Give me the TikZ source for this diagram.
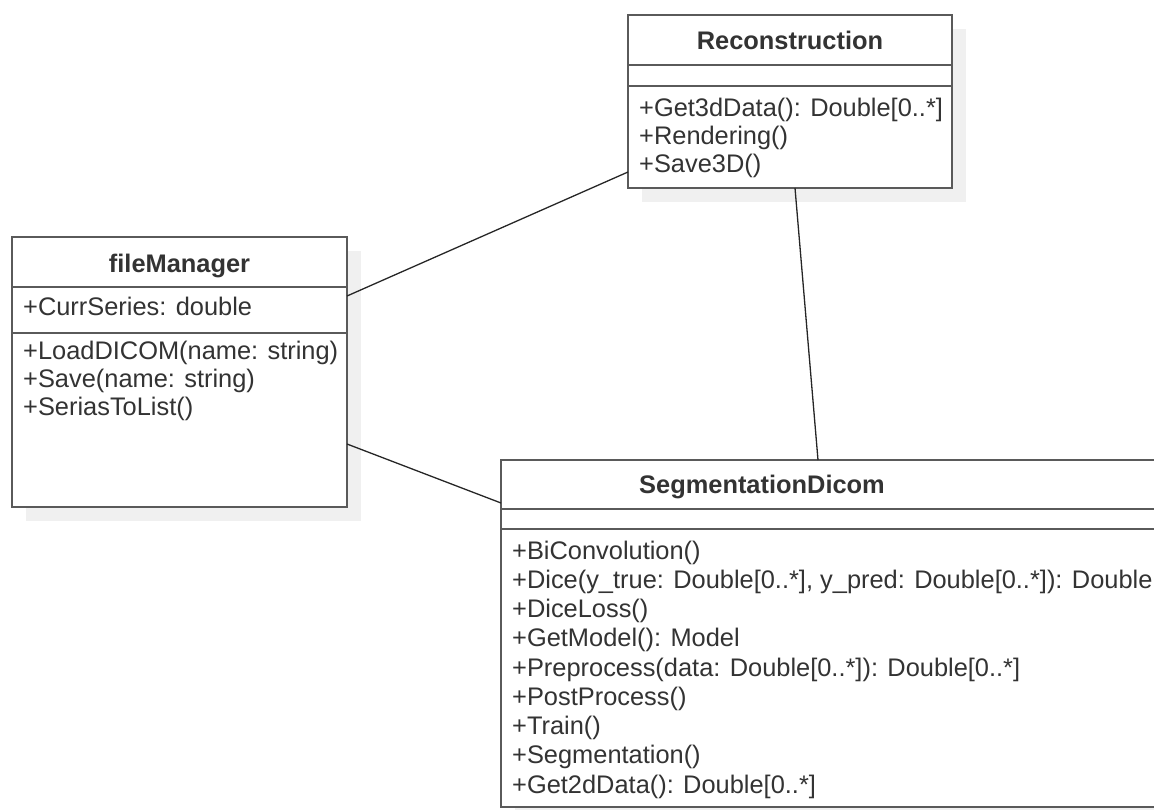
\documentclass[tikz,border=0pt]{standalone}
\usepackage{fontspec}
\setmainfont{Liberation Sans}
\usetikzlibrary{shadows}
\definecolor{umlborder}{HTML}{5A5A5A}
\definecolor{umltext}{HTML}{333333}
\definecolor{umlshadow}{HTML}{F0F0F0}

\begin{document}
\begin{tikzpicture}[
    x=1pt, y=-1pt,
    part/.style={rectangle, draw=umlborder, line width=2pt, fill=white, inner sep=0pt, outer sep=0pt, anchor=north west,
        drop shadow={shadow xshift=14pt, shadow yshift=-14pt, fill=umlshadow, opacity=1}},
    classname/.style={anchor=base, inner sep=0pt, text=umltext, font=\fontsize{25.4}{28}\selectfont\bfseries},
    members/.style={anchor=base west, align=left, inner sep=0pt, text=umltext, font=\fontsize{25.4}{28}\selectfont},
    link/.style={line width=1.3pt, black!85}
]
    \useasboundingbox (0,0) rectangle (1154,809);
    \clip (0,0) rectangle (1154,809);

    % Reconstruction
    \node [part, minimum width=324pt, minimum height=50pt] (reconHead) at (628,15) {};
    \node [part, minimum width=324pt, minimum height=21pt] (reconAttr) at (reconHead.south west) {};
    \node [part, minimum width=324pt, minimum height=102pt] (reconOps) at (reconAttr.south west) {};
    \node [classname] (reconName) at ([yshift=-9pt]reconHead.center) {Reconstruction};
    % members: anchored at the baseline of the last line
    \node [members] (reconOpsText) at ([xshift=11pt, yshift=-86pt]reconOps.north west)
        {+Get3dData(): Double[0..*]\\+Rendering()\\+Save3D()};

    % fileManager
    \node [part, minimum width=335pt, minimum height=50pt] (fmHead) at (12,237) {};
    \node [part, minimum width=335pt, minimum height=46pt] (fmAttr) at (fmHead.south west) {};
    \node [part, minimum width=335pt, minimum height=174pt] (fmOps) at (fmAttr.south west) {};
    \node [classname] (fmName) at ([yshift=-10pt]fmHead.center) {fileManager};
    \node [members] (fmAttrText) at ([xshift=11pt, yshift=-28pt]fmAttr.north west) {+CurrSeries: double};
    \node [members] (fmOpsText) at ([xshift=11pt, yshift=-82pt]fmOps.north west)
        {+LoadDICOM(name: string)\\+Save(name: string)\\+SeriasToList()};

    % SegmentationDicom
    \node [part, minimum width=700pt, minimum height=49pt] (segHead) at (501,460) {};
    \node [part, minimum width=700pt, minimum height=20pt] (segAttr) at (segHead.south west) {};
    \node [part, minimum width=700pt, minimum height=278pt] (segOps) at (segAttr.south west) {};
    \node [classname] (segName) at ([xshift=-89pt, yshift=-9pt]segHead.center) {SegmentationDicom};
    \node [members, font=\fontsize{25.4}{29.25}\selectfont] (segOpsText) at ([xshift=11pt, yshift=-264pt]segOps.north west)
        {+BiConvolution()\\+Dice(y\_true: Double[0..*], y\_pred: Double[0..*]): Double\\+DiceLoss()\\+GetModel(): Model\\
         +Preprocess(data: Double[0..*]): Double[0..*]\\+PostProcess()\\+Train()\\+Segmentation()\\+Get2dData(): Double[0..*]};

    % Associations
    \draw [link] ([yshift=14pt]fmAttr.east) -- ([yshift=-35pt]reconOps.west);
    \draw [link] ([yshift=-24pt]fmOps.east) -- ([yshift=-18.5pt]segHead.west);
    \draw [link] ([xshift=5pt]reconOps.south) -- ([xshift=-33pt]segHead.north);
\end{tikzpicture}
\end{document}
